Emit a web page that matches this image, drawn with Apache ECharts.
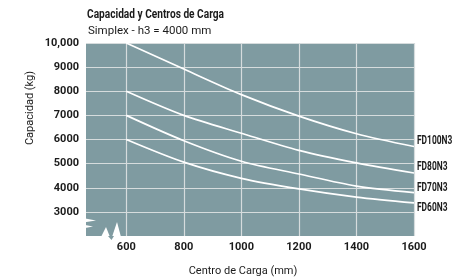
<!DOCTYPE html>
<html>
<head>
<meta charset="utf-8">
<style>
  html, body { margin: 0; padding: 0; background: #fff; }
  #chart { width: 475px; height: 279px; }
</style>
</head>
<body>
<div id="chart"></div>
<script src="https://cdn.jsdelivr.net/npm/echarts@6/dist/echarts.min.js"></script>
<script>
// datos
var centros = [600, 800, 1000, 1200, 1400, 1600];
var fd100 = [10000, 8920, 7860, 6970, 6240, 5710];
var fd80 = [8000, 7000, 6260, 5550, 5030, 4610];
var fd70 = [7000, 5950, 5100, 4570, 4070, 3800];
var fd60 = [6000, 5060, 4390, 3950, 3610, 3370];
var modelos = ['FD100N3', 'FD80N3', 'FD70N3', 'FD60N3'];
var xTicks = [600, 800, 1000, 1200, 1400, 1600];
var yTicks = [3000, 4000, 5000, 6000, 7000, 8000, 9000, 10000];

var fuente = "Roboto, 'Liberation Sans', sans-serif";
var negro = '#1b1b1b';

function pares(vals) {
    return centros.map(function (c, i) { return [c, vals[i]]; });
}

function serie(nombre, vals) {
    return {
        name: nombre,
        type: 'line',
        smooth: 0.3,
        symbol: 'none',
        lineStyle: { color: '#ffffff', width: 1.7 },
        data: pares(vals)
    };
}

var myChart = echarts.init(document.getElementById('chart'));
var option = {
    animation: false,
    grid: {
        left: 86,
        right: 61,
        top: 43,
        bottom: 43,
        outerBoundsMode: 'none',
        containLabel: false,
        show: true,
        backgroundColor: '#7f9ba1',
        borderWidth: 0
    },
    xAxis: {
        type: 'value',
        min: 460,
        max: 1600,
        name: 'Centro de Carga (mm)',
        nameLocation: 'middle',
        nameGap: 30,
        nameTextStyle: { fontFamily: fuente, fontSize: 11, color: negro, padding: [0, 14, 0, 0] },
        axisLine: { show: false },
        axisTick: { show: false, customValues: xTicks },
        axisLabel: {
            customValues: xTicks,
            margin: 6,
            formatter: function (v) { return String(v); },
            fontFamily: fuente, fontWeight: 'bold', fontSize: 11, color: negro
        },
        splitLine: { show: true, lineStyle: { color: '#d6dcdd', width: 1.2 } }
    },
    yAxis: {
        type: 'value',
        min: 2000,
        max: 10000,
        axisLine: { show: false },
        axisTick: { show: false, customValues: yTicks },
        axisLabel: {
            customValues: yTicks,
            margin: 7,
            formatter: function (v) { return v === 10000 ? '10,000' : String(v); },
            fontFamily: fuente, fontWeight: 'bold', fontSize: 11, color: negro
        },
        splitLine: { show: true, lineStyle: { color: '#d6dcdd', width: 1.2 } }
    },
    series: [
        serie(modelos[0], fd100),
        serie(modelos[1], fd80),
        serie(modelos[2], fd70),
        serie(modelos[3], fd60)
    ]
};
myChart.setOption(option);

// textos: titulo, nombre del eje y, etiquetas de modelos (fuente condensada simulada)
var finales = [fd100, fd80, fd70, fd60];
var desplaz = [-5.5, -6, -4.5, 5];
var textos = [
    {
        type: 'text', x: 87, y: 15, scaleX: 0.78,
        style: { text: 'Capacidad y Centros de Carga', fontFamily: fuente, fontWeight: 'bold',
                 fontSize: 13, fill: negro, verticalAlign: 'middle' }
    },
    {
        type: 'text', x: 88, y: 31,
        style: { text: 'Simplex - h3 = 4000 mm', fontFamily: fuente, fontSize: 11.5,
                 fill: negro, verticalAlign: 'middle' }
    },
    {
        type: 'text', x: 30, y: 108, rotation: Math.PI / 2,
        style: { text: 'Capacidad (kg)', fontFamily: fuente, fontSize: 11, fill: negro,
                 align: 'center', verticalAlign: 'middle' }
    },
    // cortes del eje (decoracion)
    { type: 'polygon', z: 10, shape: { points: [[80, 217.5], [96, 220.5], [80, 223]] }, style: { fill: '#fff' } },
    { type: 'polygon', z: 10, shape: { points: [[80, 224], [93, 226.5], [80, 229]] }, style: { fill: '#fff' } },
    { type: 'polygon', z: 10, shape: { points: [[101, 237], [106, 227], [110, 237]] }, style: { fill: '#fff' } },
    { type: 'polygon', z: 10, shape: { points: [[112, 237], [117, 222], [121, 237]] }, style: { fill: '#fff' } },
    { type: 'polygon', z: 10, shape: { points: [[108, 236], [111.5, 240], [114, 236]] }, style: { fill: '#7f9ba1' } }
];
modelos.forEach(function (m, i) {
    var vals = finales[i];
    var p = myChart.convertToPixel({ gridIndex: 0 }, [centros[centros.length - 1], vals[vals.length - 1]]);
    textos.push({
        type: 'text', x: p[0] + 3, y: p[1] + desplaz[i], scaleX: 0.7,
        style: { text: m, fontFamily: fuente, fontWeight: 'bold', fontSize: 12,
                 fill: negro, verticalAlign: 'middle' }
    });
});
myChart.setOption({ graphic: textos });
</script>
</body>
</html>
